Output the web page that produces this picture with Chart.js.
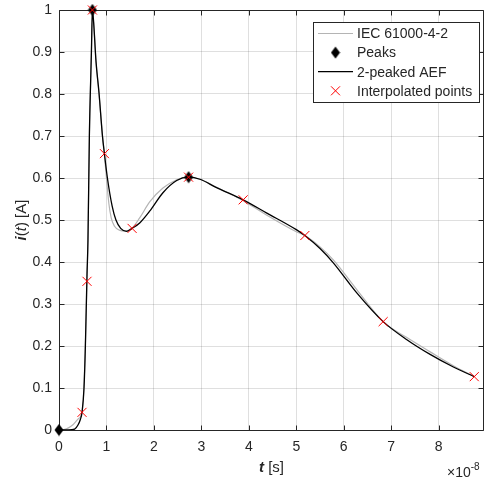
<!DOCTYPE html>
<html lang="en">
<head>
<meta charset="UTF-8">
<title>IEC 61000-4-2 and 2-peaked AEF</title>
<script src="https://cdn.jsdelivr.net/npm/chart.js@4.4.1/dist/chart.umd.min.js"></script>
<style>
  html, body { margin: 0; padding: 0; background: #fff; }
  canvas { display: block; }
</style>
</head>
<body>
<canvas id="plot" width="486" height="485"></canvas>
<script>
// time values below are in units of 1e-8 s (the axis multiplier)
var SCALE = 1e-8;

var iecT = [0, 0.1, 0.2, 0.3, 0.4, 0.485, 0.52, 0.56, 0.59, 0.61, 0.64, 0.683, 0.704,
            0.73, 0.78, 0.843, 0.915, 0.957, 1.0, 1.05, 1.10, 1.17, 1.27, 1.4, 1.54,
            1.70, 1.91, 2.19, 2.48, 2.73, 2.97, 3.32, 3.88, 4.37, 5.0, 5.18, 5.5,
            5.78, 6.27, 6.83, 7.33, 7.82, 8.31, 8.75];
var iecI = [0, 0.001, 0.005, 0.013, 0.026, 0.042, 0.09, 0.22, 0.36, 0.45, 0.70, 0.90, 1.0,
            0.97, 0.877, 0.80, 0.70, 0.655, 0.60, 0.54, 0.505, 0.485, 0.476, 0.474, 0.481,
            0.505, 0.543, 0.576, 0.596, 0.603, 0.597, 0.578, 0.546, 0.512, 0.472, 0.463, 0.436,
            0.405, 0.335, 0.258, 0.220, 0.186, 0.153, 0.127];

var aefT = [0, 0.2, 0.33, 0.40, 0.45, 0.485, 0.527, 0.556, 0.59, 0.61, 0.64, 0.683, 0.704,
            0.73, 0.78, 0.843, 0.915, 0.957, 1.02, 1.12, 1.2, 1.3, 1.42, 1.54,
            1.70, 1.91, 2.19, 2.48, 2.73, 2.97, 3.32, 3.88, 4.37, 5.0, 5.18, 5.5,
            5.78, 6.27, 6.83, 7.33, 7.82, 8.31, 8.75];
var aefI = [0, 0, 0.002, 0.012, 0.025, 0.042, 0.10, 0.20, 0.37, 0.45, 0.70, 0.90, 1.0,
            0.97, 0.877, 0.803, 0.701, 0.658, 0.600, 0.533, 0.500, 0.480, 0.473, 0.480,
            0.493, 0.521, 0.565, 0.594, 0.602, 0.597, 0.577, 0.548, 0.517, 0.477, 0.463, 0.432,
            0.398, 0.327, 0.258, 0.215, 0.180, 0.150, 0.127];

var peakT = [0, 0.704, 2.73];
var peakI = [0, 1.0, 0.602];

var interpT = [0.485, 0.59, 0.704, 0.957, 1.54, 2.73, 3.88, 5.18, 6.83, 8.75];
var interpI = [0.042, 0.354, 1.0, 0.658, 0.480, 0.602, 0.548, 0.463, 0.258, 0.127];

var xTicks = [0, 1, 2, 3, 4, 5, 6, 7, 8];
var xTickLabels = ['0', '1', '2', '3', '4', '5', '6', '7', '8'];
var yTicks = [0, 0.1, 0.2, 0.3, 0.4, 0.5, 0.6, 0.7, 0.8, 0.9, 1];
var yTickLabels = ['0', '0.1', '0.2', '0.3', '0.4', '0.5', '0.6', '0.7', '0.8', '0.9', '1'];

var AXIS_COLOR = '#262626';
var FONT = 'Liberation Sans, Arial, Helvetica, sans-serif';

function toPoints(ts, vs) {
    return ts.map(function (t, i) { return { x: t * SCALE, y: vs[i] }; });
}

// MATLAB style diamond, a bit taller than wide
var diamond = document.createElement('canvas');
diamond.width = 10;
diamond.height = 13;
(function () {
    var d = diamond.getContext('2d');
    d.fillStyle = '#000';
    d.beginPath();
    d.moveTo(5, 0.5);
    d.lineTo(9.5, 6.5);
    d.lineTo(5, 12.5);
    d.lineTo(0.5, 6.5);
    d.closePath();
    d.fill();
})();

var legendItems = [
    { text: 'IEC 61000-4-2', kind: 'line', color: '#b4b4b4', width: 1.2 },
    { text: 'Peaks', kind: 'diamond' },
    { text: '2-peaked AEF', kind: 'line', color: '#000', width: 1.3 },
    { text: 'Interpolated points', kind: 'cross' }
];

function drawCross(ctx, x, y, h) {
    ctx.beginPath();
    ctx.moveTo(x - h, y - h); ctx.lineTo(x + h, y + h);
    ctx.moveTo(x - h, y + h); ctx.lineTo(x + h, y - h);
    ctx.stroke();
}

function drawParts(ctx, parts, cx, cy, angle) {
    ctx.save();
    ctx.translate(cx, cy);
    ctx.rotate(angle);
    ctx.textBaseline = 'middle';
    ctx.textAlign = 'left';
    var total = 0;
    parts.forEach(function (p) { ctx.font = p[0]; total += ctx.measureText(p[1]).width; });
    var x = -total / 2;
    parts.forEach(function (p) {
        ctx.font = p[0];
        ctx.fillText(p[1], x, 0);
        x += ctx.measureText(p[1]).width;
    });
    ctx.restore();
}

var framePlugin = {
    id: 'frame',
    beforeDatasetsDraw: function (chart) {
        var ctx = chart.ctx, a = chart.chartArea;
        var xs = chart.scales.x, ys = chart.scales.y;
        var L = Math.round(a.left) + 0.5, R = Math.round(a.right) - 0.5;
        var T = Math.round(a.top) + 0.5, B = Math.round(a.bottom) + 0.5;
        ctx.save();
        ctx.strokeStyle = AXIS_COLOR;
        ctx.lineWidth = 1;
        ctx.beginPath();
        ctx.rect(L, T, R - L, B - T);
        // inward ticks on all four sides
        xTicks.forEach(function (v) {
            var px = Math.round(xs.getPixelForValue(v * SCALE)) + 0.5;
            ctx.moveTo(px, B); ctx.lineTo(px, B - 5);
            ctx.moveTo(px, T); ctx.lineTo(px, T + 5);
        });
        yTicks.forEach(function (v) {
            var py = Math.round(ys.getPixelForValue(v)) + 0.5;
            ctx.moveTo(L, py); ctx.lineTo(L + 5, py);
            ctx.moveTo(R, py); ctx.lineTo(R - 5, py);
        });
        ctx.stroke();
        ctx.restore();
    },
    afterDraw: function (chart) {
        var ctx = chart.ctx, a = chart.chartArea;
        ctx.save();
        ctx.fillStyle = AXIS_COLOR;

        // x axis title: bold italic t, then " [s]"
        var xParts = [['bold italic 15px ' + FONT, 't'], ['15px ' + FONT, ' [s]']];
        drawParts(ctx, xParts, (a.left + a.right) / 2, 468, 0);

        // y axis title: i(t) [A]
        var yParts = [['bold italic 15px ' + FONT, 'i'], ['15px ' + FONT, '('],
                      ['italic 15px ' + FONT, 't'], ['15px ' + FONT, ') [A]']];
        drawParts(ctx, yParts, 22, (a.top + a.bottom) / 2, -Math.PI / 2);

        // axis multiplier
        ctx.textBaseline = 'alphabetic';
        ctx.textAlign = 'left';
        ctx.font = '14px ' + FONT;
        ctx.fillText('\u00d710', 447, 477);
        var w = ctx.measureText('\u00d710').width;
        ctx.font = '10px ' + FONT;
        ctx.fillText('-8', 447 + w, 470);

        // legend box
        var bx = 313, by = 22, bw = 166, bh = 80;
        ctx.fillStyle = '#fff';
        ctx.fillRect(bx, by, bw, bh);
        ctx.strokeStyle = AXIS_COLOR;
        ctx.lineWidth = 1;
        ctx.strokeRect(bx + 0.5, by + 0.5, bw, bh);
        ctx.font = '14px ' + FONT;
        ctx.textBaseline = 'middle';
        legendItems.forEach(function (it, i) {
            var cy = 33.5 + i * 19.1;
            if (it.kind === 'line') {
                ctx.strokeStyle = it.color;
                ctx.lineWidth = it.width;
                ctx.beginPath();
                ctx.moveTo(318, cy); ctx.lineTo(353, cy);
                ctx.stroke();
            } else if (it.kind === 'diamond') {
                ctx.drawImage(diamond, 335.5 - diamond.width / 2, cy - diamond.height / 2);
            } else {
                ctx.strokeStyle = '#ff0000';
                ctx.lineWidth = 1;
                drawCross(ctx, 335.5, cy, 4.5);
            }
            ctx.fillStyle = AXIS_COLOR;
            ctx.fillText(it.text, 357, cy + 1);
        });
        ctx.restore();
    }
};

var gridCfg = { color: 'rgba(38,38,38,0.15)', lineWidth: 1, drawTicks: false };

new Chart(document.getElementById('plot').getContext('2d'), {
    type: 'scatter',
    data: {
        datasets: [{
            label: 'IEC 61000-4-2',
            data: toPoints(iecT, iecI),
            showLine: true,
            borderColor: '#b4b4b4',
            borderWidth: 1.2,
            pointRadius: 0,
            cubicInterpolationMode: 'monotone',
            order: 4
        }, {
            label: 'Peaks',
            data: toPoints(peakT, peakI),
            pointStyle: diamond,
            pointRadius: 6,
            clip: false,
            order: 3
        }, {
            label: '2-peaked AEF',
            data: toPoints(aefT, aefI),
            showLine: true,
            borderColor: '#000000',
            borderWidth: 1.3,
            pointRadius: 0,
            cubicInterpolationMode: 'monotone',
            order: 2
        }, {
            label: 'Interpolated points',
            data: toPoints(interpT, interpI),
            pointStyle: 'crossRot',
            pointRadius: 6.4,
            borderColor: '#ff0000',
            backgroundColor: '#ff0000',
            borderWidth: 1,
            clip: false,
            order: 1
        }]
    },
    options: {
        responsive: false,
        animation: false,
        devicePixelRatio: 1,
        layout: { autoPadding: false, padding: { top: 10, right: 2, left: 0, bottom: 0 } },
        plugins: { legend: { display: false }, tooltip: { enabled: false } },
        scales: {
            x: {
                type: 'linear',
                min: 0,
                max: 8.955e-8,
                afterBuildTicks: function (s) { s.ticks = xTicks.map(function (v) { return { value: v * SCALE }; }); },
                afterFit: function (s) { s.height = 55; s.paddingLeft = 0; s.paddingRight = 0; },
                ticks: {
                    callback: function (v, i) { return xTickLabels[i]; },
                    color: AXIS_COLOR,
                    font: { family: FONT, size: 14 },
                    padding: 9,
                    maxRotation: 0,
                    autoSkip: false
                },
                grid: gridCfg,
                border: { display: false }
            },
            y: {
                min: 0,
                max: 1,
                afterBuildTicks: function (s) { s.ticks = yTicks.map(function (v) { return { value: v }; }); },
                afterFit: function (s) { s.width = 59; s.paddingTop = 0; s.paddingBottom = 0; },
                ticks: {
                    callback: function (v, i) { return yTickLabels[i]; },
                    color: AXIS_COLOR,
                    font: { family: FONT, size: 14 },
                    padding: 7,
                    autoSkip: false
                },
                grid: gridCfg,
                border: { display: false }
            }
        }
    },
    plugins: [framePlugin]
});
</script>
</body>
</html>
